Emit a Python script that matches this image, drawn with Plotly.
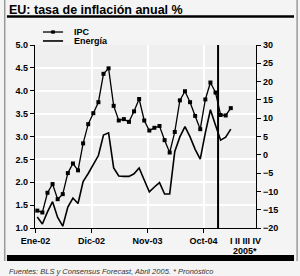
import plotly.graph_objects as go

# ---- data (monthly, Ene-02 .. Mar-05) ----
months_idx = list(range(39))
ipc = [1.38, 1.34, 1.77, 1.96, 1.63, 1.74, 2.20, 2.41, 2.26, 2.85,
       3.27, 3.51, 3.75, 4.37, 4.49, 3.67, 3.35, 3.38, 3.32, 3.55,
       3.82, 3.35, 3.13, 3.19, 3.23, 2.92, 2.65, 3.10, 3.79, 3.99,
       3.75, 3.45, 3.16, 3.81, 4.18, 3.96, 3.47, 3.46, 3.62]
energia = [-17.0, -18.9, -15.6, -12.8, -17.1, -19.5, -14.3, -11.8, -13.3, -7.3,
           -5.1, -2.7, -0.2, 5.4, 6.0, -3.6, -5.8, -5.9, -5.9, -5.2,
           -3.6, -6.9, -10.1, -8.8, -7.6, -10.7, -10.7, 0.9, 4.9, 7.7,
           4.9, 1.5, -1.2, 6.0, 12.3, 8.1, 4.0, 4.8, 7.0]
tick_pos = [-0.35, 10.65, 21.65, 32.65]
tick_labels = ["Ene-02", "Dic-02", "Nov-03", "Oct-04"]
left_ticks = [1.0, 1.5, 2.0, 2.5, 3.0, 3.5, 4.0, 4.5, 5.0]
right_ticks = [-20, -15, -10, -5, 0, 5, 10, 15, 20, 25, 30]
forecast_split = 35.5
quarters_label = "I II III IV"
year_label = "2005*"

FONT = "Liberation Sans, Arial, sans-serif"

fig = go.Figure()
fig.add_trace(go.Scatter(x=months_idx, y=ipc, mode="lines+markers", name="IPC",
                         line=dict(color="black", width=1.3),
                         marker=dict(symbol="square", size=4, color="black"),
                         showlegend=False))
fig.add_trace(go.Scatter(x=months_idx, y=energia, mode="lines", name="Energía",
                         yaxis="y2", line=dict(color="black", width=1.6),
                         showlegend=False))

# forecast separator
fig.add_shape(type="line", xref="x", yref="paper", x0=forecast_split, x1=forecast_split,
              y0=0, y1=1, line=dict(color="black", width=2))

# title
fig.add_annotation(xref="paper", yref="paper", x=-0.125, y=1.19, xanchor="left", yanchor="middle",
                   text="<b>EU: tasa de inflación anual %</b>", showarrow=False,
                   font=dict(family=FONT, size=12.5, color="black"))

fig.update_layout(
    width=300, height=276,
    margin=dict(l=35, r=44, t=45, b=48),
    paper_bgcolor="#f4f4f4", plot_bgcolor="#efefef",
    font=dict(family=FONT, size=9, color="black"),
    xaxis=dict(range=[-0.45, 42.95], tickvals=tick_pos, ticktext=tick_labels,
               tickfont=dict(family=FONT, size=9, color="black", weight="bold"),
               showgrid=True, gridcolor="white", gridwidth=1.5,
               showline=True, linecolor="black", linewidth=1.3,
               ticks="outside", ticklen=4, tickcolor="black", zeroline=False),
    yaxis=dict(range=[1.0, 5.0], tickvals=left_ticks, tickformat=".1f",
               tickfont=dict(family=FONT, size=9, color="black", weight="bold"),
               showgrid=True, gridcolor="white", gridwidth=1.5,
               showline=True, linecolor="black", linewidth=1.3,
               ticks="outside", ticklen=4, tickcolor="black", zeroline=False),
    yaxis2=dict(range=[-20, 30], tickvals=right_ticks, overlaying="y", side="right",
                tickfont=dict(family=FONT, size=9, color="black", weight="bold"),
                showgrid=False, showline=True, linecolor="black", linewidth=1.3,
                ticks="outside", ticklen=4, tickcolor="black", zeroline=False),
)

# legend (drawn manually for compact spacing)
fig.add_shape(type="line", xref="paper", yref="paper", x0=0.036, x1=0.127, y0=1.071, y1=1.071,
              line=dict(color="black", width=1.3))
fig.add_shape(type="rect", xref="paper", yref="paper", x0=0.073, x1=0.09, y0=1.062, y1=1.08,
              line=dict(width=0), fillcolor="black")
fig.add_shape(type="line", xref="paper", yref="paper", x0=0.036, x1=0.127, y0=1.022, y1=1.022,
              line=dict(color="black", width=1.6))
fig.add_annotation(xref="paper", yref="paper", x=0.167, y=1.071, xanchor="left", yanchor="middle",
                   text="<b>IPC</b>", showarrow=False, font=dict(family=FONT, size=9))
fig.add_annotation(xref="paper", yref="paper", x=0.167, y=1.022, xanchor="left", yanchor="middle",
                   text="<b>Energía</b>", showarrow=False, font=dict(family=FONT, size=9))

# title underline and bottom bar
fig.add_shape(type="line", xref="paper", yref="paper", x0=-0.127, x1=1.172, y0=1.156, y1=1.156,
              line=dict(color="black", width=2.5))
fig.add_shape(type="rect", xref="paper", yref="paper", x0=-0.127, x1=1.172, y0=-0.1475, y1=-0.18,
              line=dict(width=0), fillcolor="black")

# side borders
for xb in (-0.137, 1.186):
    fig.add_shape(type="line", xref="paper", yref="paper", x0=xb, x1=xb, y0=1.25, y1=-0.18,
                  line=dict(color="#9a9a9a", width=1.5))

# 2005 quarter labels
fig.add_annotation(xref="paper", yref="paper", x=1.03, y=-0.035, xanchor="right", yanchor="top",
                   text="<b>" + quarters_label + "</b>", showarrow=False, font=dict(family=FONT, size=9))
fig.add_annotation(xref="paper", yref="paper", x=0.95, y=-0.09, xanchor="center", yanchor="top",
                   text="<b>" + year_label + "</b>", showarrow=False, font=dict(family=FONT, size=9))

# source
fig.add_annotation(xref="paper", yref="paper", x=-0.125, y=-0.2, xanchor="left", yanchor="top",
                   text="<i>Fuentes: BLS y Consensus Forecast, Abril 2005. * Pronóstico</i>",
                   showarrow=False, font=dict(family=FONT, size=7.5, color="#333333"))

fig.write_html("out.html")
